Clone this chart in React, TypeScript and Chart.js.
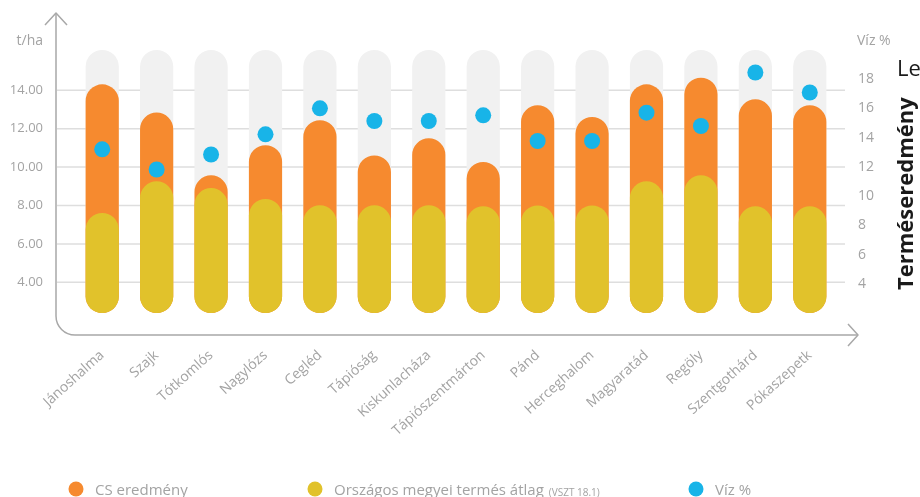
import React, { useEffect, useRef } from 'react';
import { Chart, registerables } from 'chart.js';

Chart.register(...registerables);

const categories = [
  'Jánoshalma', 'Szajk', 'Tótkomlós', 'Nagylózs', 'Cegléd', 'Tápióság', 'Kiskunlacháza',
  'Tápiószentmárton', 'Pánd', 'Herceghalom', 'Magyaratád', 'Regöly', 'Szentgothárd', 'Pókaszepetk',
];
const csResult = [14.31, 12.84, 9.57, 11.14, 12.44, 10.61, 11.5, 10.27, 13.22, 12.61, 14.31, 14.66, 13.53, 13.22];
const countyAvg = [7.61, 9.26, 8.91, 8.34, 8.01, 8.01, 8.01, 7.96, 8.0, 8.0, 9.26, 9.57, 7.96, 7.96];
const water = [13.2, 11.82, 12.85, 14.23, 16.01, 15.14, 15.14, 15.53, 13.77, 13.77, 15.71, 14.8, 18.46, 17.09];
const track = [16.1, 16.1, 16.1, 16.1, 16.1, 16.1, 16.1, 16.1, 16.1, 16.1, 16.1, 16.1, 16.1, 16.1];
const leftTicks = [4, 6, 8, 10, 12, 14];
const rightTicks = [4, 6, 8, 10, 12, 14, 16, 18];
const leftMin = 2.4;
const leftMax = 16.1;
const rightMin = 2;
const rightMax = 20;

const ORANGE = '#F68A2F';
const YELLOW = '#E1C22B';
const BLUE = '#18B4E8';
const TRACK = '#F1F1F1';
const GRID = '#DEDEDE';
const AXIS = '#A8A8A8';
const TEXT = '#A3A3A3';
const FONT = '"Open Sans", sans-serif';

const decor = {
  id: 'decor',
  beforeDatasetsDraw(chart: any) {
    const ctx = chart.ctx;
    const y = chart.scales.y;
    ctx.save();
    ctx.strokeStyle = GRID;
    ctx.lineWidth = 1.5;
    y.ticks.forEach((t: any) => {
      const py = y.getPixelForValue(t.value);
      ctx.beginPath();
      ctx.moveTo(57, py);
      ctx.lineTo(845, py);
      ctx.stroke();
    });
    // axes with arrows
    ctx.strokeStyle = AXIS;
    ctx.lineWidth = 1.5;
    ctx.lineJoin = 'round';
    ctx.beginPath();
    ctx.moveTo(56, 14);
    ctx.lineTo(56, 316);
    ctx.arcTo(56, 335, 75, 335, 19);
    ctx.lineTo(857, 335);
    ctx.stroke();
    ctx.beginPath();
    ctx.moveTo(45, 25);
    ctx.lineTo(56, 13);
    ctx.lineTo(67, 25);
    ctx.stroke();
    ctx.beginPath();
    ctx.moveTo(848, 324);
    ctx.lineTo(858, 335);
    ctx.lineTo(848, 346);
    ctx.stroke();
    // axis titles
    ctx.fillStyle = TEXT;
    ctx.font = `14px ${FONT}`;
    ctx.textBaseline = 'middle';
    ctx.textAlign = 'right';
    ctx.fillText('t/ha', 43, 41);
    ctx.textAlign = 'left';
    ctx.fillText('Víz %', 857, 41);
    // cut-off texts on the right
    ctx.fillStyle = '#1a1a1a';
    ctx.font = `22px ${FONT}`;
    ctx.textBaseline = 'alphabetic';
    ctx.fillText('Le', 897, 76);
    ctx.save();
    ctx.translate(913, 290);
    ctx.rotate(-Math.PI / 2);
    ctx.font = `bold 22px ${FONT}`;
    ctx.textAlign = 'left';
    ctx.fillText('Terméseredmény', 0, 0);
    ctx.restore();
    ctx.restore();
  },
  afterDraw(chart: any) {
    const ctx = chart.ctx;
    ctx.save();
    const items = [
      { c: ORANGE, x: 76, t: 'CS eredmény', s: '' },
      { c: YELLOW, x: 315, t: 'Országos megyei termés átlag', s: '(VSZT 18.1)' },
      { c: BLUE, x: 696, t: 'Víz %', s: '' },
    ];
    const cy = 489;
    items.forEach((it) => {
      ctx.fillStyle = it.c;
      ctx.beginPath();
      ctx.arc(it.x, cy, 7.5, 0, Math.PI * 2);
      ctx.fill();
      ctx.fillStyle = TEXT;
      ctx.textAlign = 'left';
      ctx.textBaseline = 'middle';
      ctx.font = `15px ${FONT}`;
      ctx.fillText(it.t, it.x + 19, cy + 2);
      if (it.s) {
        const w = ctx.measureText(it.t).width;
        ctx.font = `10px ${FONT}`;
        ctx.fillText(it.s, it.x + 19 + w + 5, cy + 4);
      }
    });
    ctx.restore();
  },
};

export default function App() {
  const ref = useRef<HTMLCanvasElement | null>(null);
  useEffect(() => {
    document.body.style.margin = '0';
    if (!ref.current) return;
    const barCommon = {
      barPercentage: 0.61,
      categoryPercentage: 1,
      borderRadius: 17,
      borderSkipped: false,
      grouped: false,
      yAxisID: 'y',
      base: leftMin,
    };
    const chart = new Chart(ref.current, {
      type: 'bar',
      data: {
        labels: categories,
        datasets: [
          {
            type: 'line',
            label: 'Víz %',
            data: water,
            yAxisID: 'y1',
            showLine: false,
            pointRadius: 8,
            pointHoverRadius: 8,
            pointBackgroundColor: BLUE,
            pointBorderWidth: 0,
            borderColor: BLUE,
            order: 0,
          } as any,
          { ...barCommon, label: 'Országos megyei termés átlag', data: countyAvg, backgroundColor: YELLOW, order: 1 },
          { ...barCommon, label: 'CS eredmény', data: csResult, backgroundColor: ORANGE, order: 2 },
          { ...barCommon, label: 'track', data: track, backgroundColor: TRACK, order: 3 },
        ],
      },
      options: {
        responsive: false,
        animation: false,
        layout: { padding: { top: 50, left: 0, right: 0, bottom: 0 } },
        plugins: { legend: { display: false }, tooltip: { enabled: false } },
        scales: {
          x: {
            grid: { display: false, drawTicks: false },
            border: { display: false },
            ticks: {
              color: TEXT,
              font: { family: FONT, size: 14 },
              minRotation: 42,
              maxRotation: 42,
              padding: 34,
              autoSkip: false,
            },
            afterFit: (s: any) => { s.height = 184; },
          },
          y: {
            position: 'left',
            min: leftMin,
            max: leftMax,
            beginAtZero: false,
            grid: { display: false, drawTicks: false },
            border: { display: false },
            afterBuildTicks: (s: any) => { s.ticks = leftTicks.map((v) => ({ value: v })); },
            ticks: {
              color: TEXT,
              font: { family: FONT, size: 13 },
              padding: 32,
              callback: (v: any) => Number(v).toFixed(2),
            },
            afterFit: (s: any) => { s.width = 75; },
          },
          y1: {
            position: 'right',
            min: rightMin,
            max: rightMax,
            beginAtZero: false,
            grid: { display: false, drawTicks: false },
            border: { display: false },
            afterBuildTicks: (s: any) => { s.ticks = rightTicks.map((v) => ({ value: v })); },
            ticks: {
              color: TEXT,
              font: { family: FONT, size: 14 },
              padding: 21,
            },
            afterFit: (s: any) => { s.width = 83; },
          },
        },
      },
      plugins: [decor],
    });
    return () => chart.destroy();
  }, []);
  return (
    <div style={{ width: 920, height: 497 }}>
      <canvas ref={ref} width={920} height={497} />
    </div>
  );
}
